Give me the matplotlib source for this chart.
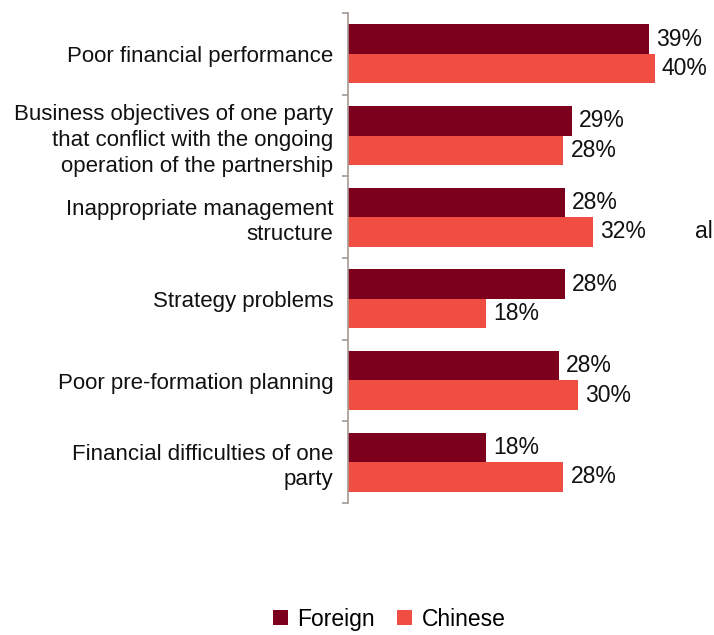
import numpy as np
import matplotlib.pyplot as plt

plt.rcParams['font.family'] = ['Liberation Sans', 'DejaVu Sans']

categories = ["Poor financial performance",
              "Business objectives of one party\nthat conflict with the ongoing\noperation of the partnership",
              "Inappropriate management\nstructure",
              "Strategy problems",
              "Poor pre-formation planning",
              "Financial difficulties of one\nparty"]
foreign = [39.3, 29.2, 28.3, 28.3, 27.5, 18.0]
chinese = [40.0, 28.1, 32.0, 18.0, 30.0, 28.1]
series_names = ["Foreign", "Chinese"]

c_foreign = "#7C001E"
c_chinese = "#F04E42"
axis_col = "#A69A94"

fig = plt.figure(figsize=(7.14, 6.35), dpi=100)
ax = fig.add_axes([348 / 714, 1 - 503 / 635, 345 / 714, 490 / 635])

n = len(categories)
y = np.arange(n)
h = 0.36
b1 = ax.barh(y - h / 2, foreign, height=h, color=c_foreign, label=series_names[0])
b2 = ax.barh(y + h / 2, chinese, height=h, color=c_chinese, label=series_names[1])

for bars, vals in ((b1, foreign), (b2, chinese)):
    for bar, v in zip(bars, vals):
        ax.annotate(f"{v:.0f}%", (bar.get_width(), bar.get_y() + bar.get_height() / 2),
                    xytext=(5, 0), textcoords="offset points",
                    va="center", ha="left", fontsize=16.5, color="#111111")

ax.set_xlim(0, 45)
ax.set_ylim(n - 0.5, -0.5)

# boundary ticks as major, labels on minor
ax.set_yticks(np.arange(n + 1) - 0.5)
ax.set_yticklabels([])
ax.tick_params(axis='y', which='major', length=4.5, width=1.2, color=axis_col, direction='out')
ax.set_yticks(y, minor=True)
ax.set_yticklabels(categories, minor=True, fontsize=16, color="#111111", linespacing=1.3)
ax.tick_params(axis='y', which='minor', length=0, pad=10.5)

ax.set_xticks([])
for s in ("top", "right", "bottom"):
    ax.spines[s].set_visible(False)
ax.spines["left"].set_color(axis_col)
ax.spines["left"].set_linewidth(1.2)

fig.legend(handles=[b1, b2], labels=series_names, loc="lower center",
           bbox_to_anchor=(0.545, -0.026), ncol=2, frameon=False,
           fontsize=16.5, handlelength=0.65, handleheight=0.65,
           handletextpad=0.4, columnspacing=1.0)

fig.text(695 / 714, 1 - 232 / 635, "al", fontsize=16.5, va="center", ha="left", color="#111111")

fig.savefig("out.png", dpi=100)
